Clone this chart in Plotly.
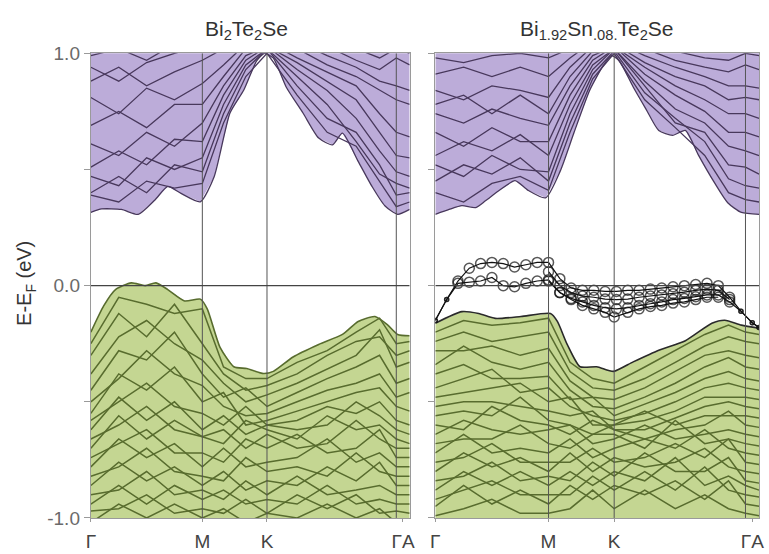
import plotly.graph_objects as go

# ---------------- data ----------------
KPTS = [0, 0.25, 0.5, 0.75, 1.0, 1.19, 1.39, 1.58, 1.85, 2.12, 2.38, 2.59, 2.74, 2.86]
TICK_K = [0, 1.0, 1.58, 2.80]
TICK_TEXT = ["Γ", "M", "K", "ΓA"]
VLINE_K = [1.0, 1.58, 2.74]
Y_TICKS = [-1.0, 0.0, 1.0]
Y_TICK_TEXT = ["-1.0", "0.0", "1.0"]
TITLES = ["Bi<sub>2</sub>Te<sub>2</sub>Se", "Bi<sub>1.92</sub>Sn<sub>.08.</sub>Te<sub>2</sub>Se"]

# Left panel (Bi2Te2Se): band envelopes
L_CB_ENV_K = [0, 0.097, 0.274, 0.425, 0.575, 0.69, 0.805, 0.982, 1.106, 1.248, 1.372, 1.487, 1.558,
              1.637, 1.752, 1.903, 2.044, 2.168, 2.257, 2.398, 2.522, 2.637, 2.752, 2.86]
L_CB_ENV_E = [0.315, 0.33, 0.328, 0.307, 0.369, 0.427, 0.398, 0.361, 0.469, 0.743, 0.842, 0.967, 1.0,
              0.979, 0.855, 0.743, 0.635, 0.606, 0.656, 0.535, 0.427, 0.344, 0.307, 0.328]
L_VB_ENV_K = [0, 0.115, 0.221, 0.363, 0.487, 0.584, 0.69, 0.841, 0.982, 1.044, 1.159, 1.283, 1.398,
              1.549, 1.637, 1.814, 2.044, 2.257, 2.398, 2.549, 2.664, 2.752, 2.86]
L_VB_ENV_E = [-0.20, -0.087, -0.017, 0.012, 0.0, 0.012, -0.017, -0.066, -0.058, -0.10, -0.266, -0.349,
              -0.357, -0.378, -0.369, -0.307, -0.253, -0.21, -0.154, -0.133, -0.17, -0.21, -0.216]

L_CB = [
    [0.39, 0.36, 0.45, 0.42, 0.44, 0.70, 0.90, 1.00, 0.82, 0.66, 0.60, 0.45, 0.34, 0.36],
    [0.40, 0.47, 0.40, 0.52, 0.49, 0.74, 0.93, 1.02, 0.86, 0.72, 0.66, 0.52, 0.39, 0.40],
    [0.47, 0.43, 0.55, 0.50, 0.55, 0.78, 0.95, 1.02, 0.90, 0.78, 0.62, 0.48, 0.44, 0.42],
    [0.51, 0.58, 0.52, 0.63, 0.62, 0.82, 0.97, 1.03, 0.93, 0.84, 0.72, 0.58, 0.49, 0.47],
    [0.61, 0.56, 0.66, 0.60, 0.70, 0.86, 0.99, 1.03, 0.96, 0.88, 0.80, 0.66, 0.56, 0.55],
    [0.69, 0.75, 0.68, 0.78, 0.78, 0.90, 1.02, 1.05, 0.98, 0.92, 0.86, 0.74, 0.66, 0.64],
    [0.81, 0.74, 0.85, 0.80, 0.87, 0.95, 1.04, 1.05, 1.02, 0.95, 0.90, 0.84, 0.80, 0.78],
    [0.88, 0.94, 0.86, 0.92, 0.97, 1.02, 1.06, 1.06, 1.05, 0.99, 0.94, 0.88, 0.86, 0.84],
    [0.94, 0.88, 0.96, 1.00, 1.03, 1.06, 1.08, 1.08, 1.08, 1.03, 0.97, 0.93, 0.98, 0.95],
    [0.99, 1.02, 0.97, 1.04, 1.06, 1.08, 1.10, 1.10, 1.10, 1.06, 1.02, 0.98, 1.02, 1.00],
]
L_VB = [
    [-0.25, -0.05, -0.08, -0.12, -0.10, -0.35, -0.40, -0.40, -0.33, -0.28, -0.20, -0.14, -0.25, -0.24],
    [-0.30, -0.12, -0.22, -0.08, -0.25, -0.38, -0.45, -0.43, -0.38, -0.30, -0.24, -0.22, -0.30, -0.28],
    [-0.38, -0.22, -0.15, -0.25, -0.32, -0.42, -0.50, -0.47, -0.42, -0.36, -0.30, -0.19, -0.35, -0.33],
    [-0.45, -0.28, -0.32, -0.20, -0.38, -0.48, -0.44, -0.52, -0.46, -0.40, -0.35, -0.30, -0.42, -0.40],
    [-0.50, -0.40, -0.28, -0.38, -0.43, -0.52, -0.56, -0.55, -0.50, -0.45, -0.42, -0.38, -0.48, -0.46],
    [-0.55, -0.38, -0.45, -0.35, -0.50, -0.46, -0.60, -0.58, -0.54, -0.50, -0.46, -0.44, -0.52, -0.54],
    [-0.58, -0.50, -0.42, -0.52, -0.55, -0.60, -0.52, -0.60, -0.58, -0.52, -0.55, -0.50, -0.58, -0.60],
    [-0.62, -0.48, -0.58, -0.50, -0.62, -0.56, -0.64, -0.60, -0.62, -0.60, -0.50, -0.56, -0.62, -0.64],
    [-0.66, -0.60, -0.52, -0.62, -0.65, -0.68, -0.58, -0.62, -0.66, -0.56, -0.62, -0.60, -0.66, -0.68],
    [-0.70, -0.56, -0.66, -0.58, -0.65, -0.62, -0.70, -0.64, -0.70, -0.68, -0.58, -0.66, -0.70, -0.70],
    [-0.74, -0.68, -0.62, -0.72, -0.72, -0.76, -0.66, -0.70, -0.64, -0.72, -0.70, -0.62, -0.74, -0.74],
    [-0.78, -0.66, -0.74, -0.68, -0.78, -0.70, -0.78, -0.76, -0.74, -0.66, -0.76, -0.72, -0.78, -0.78],
    [-0.82, -0.78, -0.70, -0.80, -0.82, -0.84, -0.74, -0.80, -0.78, -0.82, -0.72, -0.80, -0.82, -0.82],
    [-0.86, -0.76, -0.84, -0.78, -0.86, -0.80, -0.88, -0.84, -0.86, -0.78, -0.84, -0.76, -0.86, -0.86],
    [-0.90, -0.88, -0.80, -0.90, -0.88, -0.92, -0.84, -0.90, -0.82, -0.90, -0.88, -0.86, -0.90, -0.90],
    [-0.94, -0.86, -0.94, -0.86, -0.92, -0.88, -0.94, -0.92, -0.94, -0.86, -0.94, -0.92, -0.94, -0.94],
    [-0.97, -0.96, -0.90, -0.98, -0.96, -0.98, -0.92, -0.98, -0.90, -0.96, -0.90, -0.98, -0.97, -0.98],
    [-1.02, -0.94, -1.00, -0.94, -1.00, -0.96, -1.02, -0.98, -1.00, -0.94, -1.00, -0.96, -1.02, -1.02],
]

# Right panel (Bi1.92Sn.08Te2Se)
R_CB_ENV_K = [0.0, 0.122, 0.235, 0.357, 0.443, 0.557, 0.704, 0.817, 0.974, 1.104, 1.226, 1.365, 1.487,
              1.557, 1.626, 1.748, 1.861, 1.974, 2.096, 2.209, 2.322, 2.47, 2.583, 2.704, 2.86]
R_CB_ENV_E = [0.307, 0.328, 0.344, 0.336, 0.365, 0.407, 0.452, 0.411, 0.378, 0.494, 0.66, 0.842, 0.95,
              0.99, 0.967, 0.855, 0.76, 0.668, 0.647, 0.668, 0.564, 0.44, 0.357, 0.315, 0.307]
R_VB_ENV_K = [0.0, 0.235, 0.383, 0.53, 0.757, 1.017, 1.078, 1.165, 1.278, 1.426, 1.574, 1.748, 1.974,
              2.209, 2.443, 2.557, 2.704, 2.86]
R_VB_ENV_E = [-0.162, -0.112, -0.12, -0.141, -0.133, -0.12, -0.154, -0.253, -0.349, -0.349, -0.369,
              -0.328, -0.278, -0.237, -0.162, -0.149, -0.17, -0.183]

R_CB = [
    [0.40, 0.36, 0.44, 0.47, 0.41, 0.66, 0.89, 1.00, 0.80, 0.68, 0.56, 0.40, 0.37, 0.36],
    [0.45, 0.52, 0.48, 0.55, 0.45, 0.70, 0.91, 1.01, 0.83, 0.72, 0.62, 0.46, 0.43, 0.42],
    [0.52, 0.47, 0.56, 0.50, 0.49, 0.74, 0.93, 1.02, 0.86, 0.70, 0.66, 0.52, 0.51, 0.48],
    [0.56, 0.62, 0.58, 0.65, 0.56, 0.78, 0.95, 1.02, 0.88, 0.76, 0.70, 0.60, 0.58, 0.56],
    [0.66, 0.60, 0.68, 0.62, 0.62, 0.82, 0.97, 1.03, 0.91, 0.82, 0.75, 0.66, 0.66, 0.64],
    [0.74, 0.70, 0.76, 0.72, 0.69, 0.86, 0.99, 1.03, 0.94, 0.86, 0.80, 0.74, 0.74, 0.72],
    [0.78, 0.82, 0.74, 0.82, 0.74, 0.90, 1.01, 1.04, 0.96, 0.90, 0.86, 0.80, 0.81, 0.80],
    [0.84, 0.80, 0.86, 0.84, 0.81, 0.94, 1.03, 1.05, 0.99, 0.94, 0.90, 0.86, 0.86, 0.85],
    [0.91, 0.94, 0.90, 0.94, 0.90, 0.98, 1.05, 1.06, 1.02, 0.97, 0.94, 0.92, 0.95, 0.93],
    [0.98, 0.96, 0.99, 1.00, 0.98, 1.02, 1.07, 1.07, 1.04, 1.01, 0.98, 0.97, 1.00, 0.99],
]
R_VB = [
    [-0.20, -0.15, -0.17, -0.16, -0.14, -0.33, -0.40, -0.42, -0.35, -0.28, -0.21, -0.17, -0.20, -0.21],
    [-0.24, -0.20, -0.24, -0.22, -0.20, -0.37, -0.44, -0.45, -0.40, -0.33, -0.26, -0.22, -0.24, -0.25],
    [-0.28, -0.28, -0.26, -0.30, -0.27, -0.41, -0.48, -0.49, -0.44, -0.37, -0.30, -0.28, -0.30, -0.31],
    [-0.34, -0.26, -0.33, -0.36, -0.33, -0.45, -0.52, -0.53, -0.48, -0.42, -0.35, -0.31, -0.35, -0.36],
    [-0.38, -0.34, -0.40, -0.40, -0.39, -0.49, -0.48, -0.56, -0.51, -0.46, -0.40, -0.37, -0.40, -0.41],
    [-0.44, -0.40, -0.36, -0.46, -0.44, -0.52, -0.56, -0.58, -0.55, -0.50, -0.44, -0.42, -0.44, -0.45],
    [-0.48, -0.46, -0.44, -0.42, -0.50, -0.48, -0.60, -0.60, -0.58, -0.54, -0.48, -0.48, -0.48, -0.49],
    [-0.52, -0.50, -0.50, -0.52, -0.54, -0.56, -0.54, -0.62, -0.62, -0.57, -0.52, -0.50, -0.52, -0.53],
    [-0.56, -0.54, -0.56, -0.48, -0.58, -0.60, -0.64, -0.60, -0.54, -0.60, -0.56, -0.56, -0.56, -0.57],
    [-0.60, -0.62, -0.52, -0.58, -0.60, -0.64, -0.58, -0.62, -0.66, -0.62, -0.60, -0.54, -0.60, -0.61],
    [-0.64, -0.58, -0.62, -0.64, -0.62, -0.60, -0.68, -0.66, -0.60, -0.66, -0.64, -0.62, -0.64, -0.65],
    [-0.68, -0.66, -0.66, -0.60, -0.68, -0.70, -0.64, -0.64, -0.70, -0.58, -0.68, -0.66, -0.68, -0.69],
    [-0.72, -0.64, -0.72, -0.70, -0.72, -0.66, -0.74, -0.70, -0.66, -0.70, -0.62, -0.70, -0.72, -0.73],
    [-0.76, -0.74, -0.68, -0.76, -0.76, -0.76, -0.70, -0.76, -0.74, -0.68, -0.74, -0.66, -0.76, -0.77],
    [-0.80, -0.72, -0.78, -0.74, -0.80, -0.72, -0.80, -0.74, -0.78, -0.76, -0.70, -0.78, -0.80, -0.81],
    [-0.84, -0.82, -0.76, -0.84, -0.82, -0.84, -0.76, -0.82, -0.72, -0.80, -0.80, -0.74, -0.84, -0.85],
    [-0.88, -0.80, -0.86, -0.80, -0.86, -0.80, -0.86, -0.80, -0.84, -0.74, -0.86, -0.82, -0.86, -0.88],
    [-0.92, -0.88, -0.84, -0.90, -0.90, -0.90, -0.82, -0.88, -0.80, -0.88, -0.78, -0.88, -0.90, -0.91],
    [-0.95, -0.86, -0.94, -0.88, -0.94, -0.86, -0.92, -0.86, -0.90, -0.84, -0.92, -0.84, -0.94, -0.95],
    [-0.99, -0.96, -0.92, -0.98, -0.98, -0.96, -0.88, -0.96, -0.88, -0.96, -0.90, -0.96, -0.98, -0.99],
]

# Sn impurity bands (circles), right panel
IMP_K = [0.0, 0.1, 0.2, 0.3, 0.4, 0.5, 0.6, 0.7, 0.8, 0.9, 1.0, 1.1, 1.2, 1.3, 1.4, 1.5,
         1.6, 1.7, 1.8, 1.9, 2.0, 2.1, 2.2, 2.3, 2.4, 2.5, 2.6, 2.7, 2.8, 2.86]
IMP_UPPER = [-0.15, -0.06, 0.02, 0.075, 0.095, 0.10, 0.095, 0.08, 0.09, 0.10, 0.10, 0.03, -0.01,
             -0.02, -0.02, -0.025, -0.025, -0.02, -0.02, -0.015, -0.01, -0.005, 0.0, 0.005, 0.01,
             0.0, -0.05, -0.11, -0.16, -0.18]
IMP_LOWER = [-0.15, -0.06, 0.01, 0.015, 0.02, 0.035, 0.0, -0.005, 0.01, 0.02, 0.025, -0.03, -0.055,
             -0.07, -0.085, -0.095, -0.10, -0.095, -0.085, -0.078, -0.07, -0.06, -0.055, -0.048,
             -0.04, -0.04, -0.07, -0.11, -0.16, -0.18]
IMP3_K = [1.0, 1.1, 1.2, 1.3, 1.4, 1.5, 1.6, 1.7, 1.8, 1.9, 2.0, 2.1, 2.2, 2.3, 2.4, 2.5, 2.6]
IMP3_E = [0.06, 0.0, -0.03, -0.045, -0.05, -0.058, -0.06, -0.058, -0.05, -0.045, -0.04, -0.035,
          -0.028, -0.02, -0.015, -0.02, -0.06]
IMP4_K = [1.0, 1.1, 1.2, 1.3, 1.4, 1.5, 1.58, 1.7, 1.8, 1.9, 2.0, 2.1, 2.2, 2.3, 2.4, 2.5]
IMP4_E = [0.02, -0.03, -0.06, -0.085, -0.10, -0.115, -0.135, -0.115, -0.10, -0.09, -0.085, -0.075,
          -0.07, -0.06, -0.05, -0.05]

# ---------------- styles ----------------
PURPLE_FILL = "rgb(188,172,217)"
PURPLE_LINE = "rgb(72,56,92)"
GREEN_FILL = "rgb(196,214,146)"
GREEN_LINE = "rgb(88,108,46)"
FRAME = "#9a9a9a"
GUIDE = "#555555"
FONT = "Liberation Sans, Arial, sans-serif"

W, H = 769, 554
PLOT_TOP, PLOT_BOTTOM = 45, 528
X_DOMAINS = [[87 / W, 410 / W], [436 / W, 764 / W]]
Y_DOMAIN = [1 - PLOT_BOTTOM / H, 1 - PLOT_TOP / H]
XMAX = 2.86

fig = go.Figure()

panels = [
    dict(cbk=L_CB_ENV_K, cbe=L_CB_ENV_E, vbk=L_VB_ENV_K, vbe=L_VB_ENV_E, cb=L_CB, vb=L_VB),
    dict(cbk=R_CB_ENV_K, cbe=R_CB_ENV_E, vbk=R_VB_ENV_K, vbe=R_VB_ENV_E, cb=R_CB, vb=R_VB),
]

for i, p in enumerate(panels):
    xa = "x" if i == 0 else "x2"
    ya = "y" if i == 0 else "y2"
    fig.add_trace(go.Scatter(
        x=list(p["cbk"]) + [XMAX, 0], y=list(p["cbe"]) + [1.2, 1.2],
        fill="toself", fillcolor=PURPLE_FILL, mode="none", xaxis=xa, yaxis=ya,
        hoverinfo="skip", showlegend=False))
    fig.add_trace(go.Scatter(
        x=list(p["vbk"]) + [XMAX, 0], y=list(p["vbe"]) + [-1.2, -1.2],
        fill="toself", fillcolor=GREEN_FILL, mode="none", xaxis=xa, yaxis=ya,
        hoverinfo="skip", showlegend=False))
    for band in p["cb"]:
        fig.add_trace(go.Scatter(x=KPTS, y=band, mode="lines", xaxis=xa, yaxis=ya,
                                 line=dict(color=PURPLE_LINE, width=1.3), showlegend=False))
    for band in p["vb"]:
        fig.add_trace(go.Scatter(x=KPTS, y=band, mode="lines", xaxis=xa, yaxis=ya,
                                 line=dict(color=GREEN_LINE, width=1.5), showlegend=False))
    fig.add_trace(go.Scatter(x=p["cbk"], y=p["cbe"], mode="lines", xaxis=xa, yaxis=ya,
                             line=dict(color=PURPLE_LINE, width=1.3, shape="spline", smoothing=0.6),
                             showlegend=False))
    fig.add_trace(go.Scatter(x=p["vbk"], y=p["vbe"], mode="lines", xaxis=xa, yaxis=ya,
                             line=dict(color=GREEN_LINE if i == 0 else "#2a2a2a", width=1.6,
                                       shape="spline", smoothing=0.6),
                             showlegend=False))


def imp_sizes(ks):
    return [4 if (k < 0.18 or k > 2.65) else 10 for k in ks]


for ks, es in [(IMP_K, IMP_UPPER), (IMP_K, IMP_LOWER), (IMP3_K, IMP3_E), (IMP4_K, IMP4_E)]:
    fig.add_trace(go.Scatter(
        x=ks, y=es, mode="lines+markers", xaxis="x2", yaxis="y2",
        line=dict(color="#111111", width=1.2),
        marker=dict(symbol="circle-open", size=imp_sizes(ks), color="#111111",
                    line=dict(width=1.5, color="#111111")),
        showlegend=False))

shapes = []
for xa, ya in [("x", "y"), ("x2", "y2")]:
    for k in VLINE_K:
        shapes.append(dict(type="line", xref=xa, yref=ya, x0=k, x1=k, y0=-1, y1=1,
                           line=dict(color=GUIDE, width=1), layer="above"))
    shapes.append(dict(type="line", xref=xa, yref=ya, x0=0, x1=XMAX, y0=0, y1=0,
                       line=dict(color="#444444", width=1.2), layer="above"))

axis_common = dict(showgrid=False, zeroline=False, showline=True, linecolor=FRAME, linewidth=1.2,
                   mirror=True, ticks="outside", tickcolor=FRAME)
y_minor = dict(tick0=0, dtick=0.5, ticks="outside", ticklen=6, tickcolor=FRAME, showgrid=False)
x_font = dict(size=19, color="#444")

fig.update_layout(
    width=W, height=H, margin=dict(l=0, r=0, t=0, b=0),
    paper_bgcolor="white", plot_bgcolor="white",
    font=dict(family=FONT, color="#444"),
    xaxis=dict(domain=X_DOMAINS[0], range=[0, XMAX], tickvals=TICK_K, ticktext=TICK_TEXT,
               ticklen=3, ticklabelstandoff=3, tickfont=x_font, anchor="y", **axis_common),
    xaxis2=dict(domain=X_DOMAINS[1], range=[0, XMAX], tickvals=TICK_K, ticktext=TICK_TEXT,
                ticklen=3, ticklabelstandoff=3, tickfont=x_font, anchor="y2", **axis_common),
    yaxis=dict(domain=Y_DOMAIN, range=[-1, 1], tickvals=Y_TICKS, ticktext=Y_TICK_TEXT,
               ticklen=6, tickfont=dict(size=19, color="#6a6a6a"), anchor="x", minor=y_minor,
               **axis_common),
    yaxis2=dict(domain=Y_DOMAIN, range=[-1, 1], tickvals=Y_TICKS, showticklabels=False,
                ticklen=6, anchor="x2", minor=y_minor, **axis_common),
    shapes=shapes,
    annotations=[
        dict(text=TITLES[0], xref="paper", yref="paper", x=245 / W, y=1 - 21 / H,
             xanchor="center", yanchor="middle",
             showarrow=False, font=dict(size=21, color="#333")),
        dict(text=TITLES[1], xref="paper", yref="paper", x=600 / W, y=1 - 21 / H,
             xanchor="center", yanchor="middle",
             showarrow=False, font=dict(size=21, color="#333")),
        dict(text="E-E<sub>F</sub> (eV)", xref="paper", yref="paper", x=21 / W, y=1 - 284 / H,
             xanchor="center", yanchor="middle",
             textangle=-90, showarrow=False, font=dict(size=20, color="#333")),
    ],
)

fig.write_html("out.html")
